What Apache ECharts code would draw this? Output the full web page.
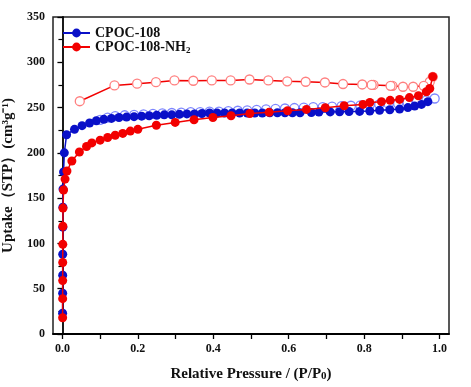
<!DOCTYPE html>
<html><head><meta charset="utf-8">
<script src="https://cdn.jsdelivr.net/npm/echarts@6/dist/echarts.min.js"></script>
<style>html,body{margin:0;padding:0;background:#fff}#c{width:471px;height:387px}</style>
</head><body><div id="c"></div>
<script>
// CPOC-108 adsorption (filled)
const blueAdsX = [0.0005,0.0006,0.0007,0.0008,0.001,0.0012,0.0015,0.003,0.005,0.011,0.032,0.052,0.072,0.09,0.11,0.13,0.15,0.17,0.19,0.21,0.23,0.25,0.27,0.29,0.31,0.33,0.35,0.37,0.39,0.41,0.43,0.45,0.47,0.49,0.51,0.53,0.55,0.57,0.59,0.61,0.63,0.66,0.68,0.71,0.735,0.76,0.788,0.815,0.841,0.868,0.894,0.916,0.934,0.952,0.969];
const blueAdsY = [23,45,65,88,118,140,160,179,200,220,226,230,233,235.5,237,238,239,239.5,240,240.5,241,241.5,242,242,242.5,243,243,243.5,244,244,244,244,244,244,244,244,244.2,244.3,244.3,244.3,244.3,244.6,245,245.2,245.4,245.6,245.8,246.2,247,247.6,248.3,250,251.6,253.5,256.5];
// CPOC-108 desorption (open)
const blueDesX = [0.987,0.965,0.94,0.915,0.89,0.865,0.84,0.815,0.79,0.765,0.74,0.715,0.69,0.665,0.64,0.615,0.59,0.565,0.54,0.515,0.49,0.465,0.44,0.415,0.39,0.365,0.34,0.315,0.29,0.265,0.24,0.215,0.19,0.165,0.14,0.12,0.1];
const blueDesY = [260,258,256.5,255.5,254.5,254,253.5,253,252.5,252,251.5,251,250.5,250.5,250,249.5,249,248.5,248,247.5,247,246.5,246,245.5,245.5,245,245,244.5,244,243.5,243,242.5,242,241.5,240.5,239,236.5];
// CPOC-108-NH2 adsorption (filled)
const redAdsX = [0.0005,0.0006,0.0007,0.0008,0.001,0.0012,0.0015,0.003,0.007,0.012,0.025,0.045,0.064,0.078,0.1,0.12,0.14,0.16,0.18,0.2,0.249,0.299,0.349,0.399,0.447,0.497,0.548,0.597,0.647,0.697,0.747,0.797,0.815,0.846,0.869,0.894,0.92,0.944,0.965,0.974,0.982];
const redAdsY = [18,39,59,79,99,119,139,159,171,180,191,201,207,211,214,217,219.5,221.5,224,226,230.5,233.6,236.5,239,241,243.5,244.7,246.5,248,249.8,252,253.5,255.6,256.5,258,259,261,263,267.5,271,284];
// CPOC-108-NH2 desorption (open)
const redDesX = [0.982,0.974,0.958,0.93,0.903,0.875,0.87,0.825,0.82,0.795,0.744,0.696,0.645,0.596,0.546,0.496,0.446,0.396,0.347,0.297,0.248,0.198,0.138,0.046];
const redDesY = [284,278.5,274,273,273,274,274,275,275,275.5,276,277.7,278.5,279,280,281,280,280,279.6,280,278,276.4,274.5,257];
// axis ticks / labels
const xLabelValues = [0,0.2,0.4,0.6,0.8,1.0];
const xTickValues = [0,0.1,0.2,0.3,0.4,0.5,0.6,0.7,0.8,0.9,1.0];
const seriesNames = ['CPOC-108','CPOC-108-NH2'];

const zip = (xs, ys) => xs.map((x, i) => [x, ys[i]]);
const FONT = '"Liberation Serif", "Times New Roman", serif';
const BLUE = '#0a10c8', RED = '#f20000';

const chart = echarts.init(document.getElementById('c'), null, {renderer: 'canvas'});
chart.setOption({
  animation: false,
  backgroundColor: '#fff',
  grid: {left: 53, right: 22, top: 17, bottom: 53, outerBoundsMode: 'none', containLabel: false,
         show: true, borderColor: '#222', borderWidth: 1.5, backgroundColor: 'transparent'},
  legend: {
    data: seriesNames,
    orient: 'vertical', left: 57, top: 21, itemGap: 0, itemWidth: 27, itemHeight: 11,
    textStyle: {fontFamily: FONT, fontWeight: 'bold', fontSize: 14, color: '#111',
      rich: {sub: {fontFamily: FONT, fontWeight: 'bold', fontSize: 9, verticalAlign: 'bottom', padding: [8, 0, 0, 0], color: '#111'}}},
    formatter: n => n === 'CPOC-108-NH2' ? 'CPOC-108-NH{sub|2}' : n
  },
  xAxis: {
    type: 'value', min: -0.025, max: 1.025,
    name: 'Relative Pressure / (P/P{s|0})', nameLocation: 'middle', nameGap: 33,
    nameTextStyle: {fontFamily: FONT, fontWeight: 'bold', fontSize: 15, color: '#111',
      rich: {s: {fontFamily: FONT, fontWeight: 'bold', fontSize: 11, color: '#111', padding: [3, 0, 0, 0]}}},
    axisLine: {show: true, lineStyle: {color: '#000', width: 1.8}},
    axisTick: {show: true, customValues: xTickValues, length: 5, lineStyle: {color: '#000', width: 1.3}},
    axisLabel: {customValues: xLabelValues, formatter: v => v.toFixed(1), fontFamily: FONT, fontWeight: 'bold', fontSize: 12, color: '#111', margin: 9},
    splitLine: {show: false}
  },
  yAxis: {
    type: 'value', min: 0, max: 350, interval: 50,
    name: 'Uptake（STP）(cm³g⁻¹)', nameLocation: 'middle', nameGap: 33,
    nameTextStyle: {fontFamily: FONT, fontWeight: 'bold', fontSize: 15, color: '#111'},
    axisLine: {show: true, lineStyle: {color: '#000', width: 1.8}},
    axisTick: {show: true, length: 5, lineStyle: {color: '#000', width: 1.3}},
    minorTick: {show: true, splitNumber: 2, length: 4, lineStyle: {color: '#000', width: 1.2}},
    axisLabel: {fontFamily: FONT, fontWeight: 'bold', fontSize: 12, color: '#111', margin: 8},
    splitLine: {show: false}
  },
  series: [
    {name: 'CPOC-108 desorption', type: 'line', data: zip(blueDesX, blueDesY), symbol: 'circle', symbolSize: 9,
     itemStyle: {color: '#fff', borderColor: '#7d86ff', borderWidth: 1.3}, lineStyle: {color: BLUE, width: 1.5}, z: 2},
    {name: seriesNames[0], type: 'line', data: zip(blueAdsX, blueAdsY), symbol: 'circle', symbolSize: 9,
     itemStyle: {color: BLUE}, lineStyle: {color: BLUE, width: 1.5}, z: 3},
    {name: 'CPOC-108-NH2 desorption', type: 'line', data: zip(redDesX, redDesY), symbol: 'circle', symbolSize: 9,
     itemStyle: {color: '#fff', borderColor: '#ff7f7f', borderWidth: 1.3}, lineStyle: {color: RED, width: 1.5}, z: 4},
    {name: seriesNames[1], type: 'line', data: zip(redAdsX, redAdsY), symbol: 'circle', symbolSize: 9,
     itemStyle: {color: RED}, lineStyle: {color: RED, width: 1.5}, z: 5}
  ]
});
</script></body></html>
